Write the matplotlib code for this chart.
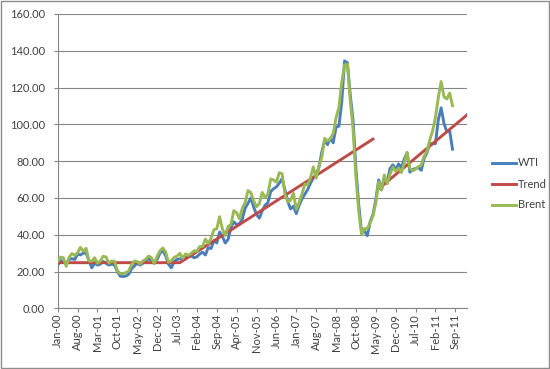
import numpy as np
import matplotlib
matplotlib.use("Agg")
import matplotlib.pyplot as plt
from matplotlib.patches import Rectangle

plt.rcParams['font.family'] = ['Lato', 'DejaVu Sans']

# monthly prices, Jan-00 .. Aug-11
wti = [
    23.5, 26.0, 25.5, 24.0, 26.5, 27.0, 26.5, 29.5, 29.0, 30.0, 30.0, 26.0,   # 2000
    22.0, 24.5, 23.5, 24.0, 25.5, 24.5, 23.5, 24.0, 23.5, 20.0, 17.5, 17.3,   # 2001
    17.5, 18.5, 21.5, 23.0, 24.5, 23.5, 24.5, 25.5, 27.0, 26.0, 24.5, 26.5,   # 2002
    30.0, 31.5, 28.5, 24.0, 22.0, 25.5, 26.5, 27.0, 26.5, 27.5, 28.0, 28.5,   # 2003
    27.5, 28.0, 29.5, 30.5, 29.0, 33.0, 32.5, 37.0, 35.5, 41.5, 39.0, 35.5,   # 2004
    37.5, 44.0, 47.0, 45.5, 46.0, 48.5, 54.5, 57.0, 60.0, 55.0, 51.0, 49.0,   # 2005
    53.0, 56.0, 57.5, 63.5, 65.0, 66.0, 68.0, 70.5, 64.5, 58.0, 54.0, 55.5,   # 2006
    51.5, 56.0, 59.5, 62.0, 64.5, 68.0, 71.0, 72.0, 77.0, 85.0, 91.5, 89.0,   # 2007
    92.5, 90.0, 98.5, 99.0, 112.0, 134.5, 133.5, 116.0, 102.0, 76.0, 56.0, 41.5,  # 2008
    42.0, 39.5, 47.0, 51.0, 59.0, 69.8, 64.4, 70.5, 68.5, 76.0, 78.0, 75.5,   # 2009
    78.5, 76.5, 81.0, 84.5, 74.0, 75.5, 76.0, 76.5, 75.0, 81.5, 84.5, 89.5,   # 2010
    89.5, 89.5, 102.5, 109.0, 100.5, 96.0, 96.5, 86.5,                        # 2011
]
brent = [
    25.5, 27.8, 27.5, 22.8, 27.7, 29.8, 28.7, 30.2, 33.1, 31.0, 32.6, 25.7,
    25.6, 27.5, 24.5, 25.7, 28.3, 27.9, 24.6, 25.7, 25.6, 20.5, 18.8, 18.7,
    19.4, 20.3, 23.7, 25.7, 25.4, 24.1, 25.7, 26.7, 28.4, 27.5, 24.3, 28.3,
    31.2, 32.8, 30.6, 25.0, 25.9, 27.7, 28.4, 29.9, 27.1, 29.6, 28.8, 29.8,
    31.3, 30.9, 33.6, 33.6, 37.6, 35.2, 38.2, 42.7, 43.2, 49.8, 43.1, 39.6,
    44.5, 45.5, 53.1, 51.9, 48.7, 54.4, 57.5, 64.0, 62.9, 58.5, 55.2, 56.9,
    63.0, 60.2, 62.1, 70.3, 69.8, 68.6, 73.7, 73.2, 62.0, 57.8, 58.8, 62.5,
    53.7, 57.6, 62.1, 67.5, 67.2, 71.1, 76.9, 70.8, 77.2, 82.3, 92.4, 90.9,
    92.2, 95.0, 103.6, 109.1, 122.8, 132.3, 132.7, 113.2, 97.2, 71.6, 52.5, 40.0,
    43.4, 43.3, 46.5, 50.2, 57.3, 68.6, 64.4, 72.5, 67.7, 72.8, 76.7, 74.5,
    76.2, 73.8, 78.8, 84.8, 76.0, 74.8, 75.6, 77.0, 77.8, 82.7, 85.3, 91.5,
    96.5, 103.7, 114.6, 123.3, 115.0, 113.8, 117.0, 110.2,
]

# trend line knots (month index, value); two separate segments
trend1_month = [0, 43, 111]
trend1_value = [24.8, 24.8, 92.0]
trend2_month = [113, 144]
trend2_value = [65.0, 105.0]

tick_labels = ['Jan-00', 'Aug-00', 'Mar-01', 'Oct-01', 'May-02', 'Dec-02', 'Jul-03',
               'Feb-04', 'Sep-04', 'Apr-05', 'Nov-05', 'Jun-06', 'Jan-07', 'Aug-07',
               'Mar-08', 'Oct-08', 'May-09', 'Dec-09', 'Jul-10', 'Feb-11', 'Sep-11']

fig = plt.figure(figsize=(5.5, 3.69), dpi=100)
ax = fig.add_axes([57.7 / 550, 1 - 308.3 / 369, (466.7 - 57.7) / 550, (308.3 - 14) / 369])

months = np.arange(len(wti))
ax.plot(months, wti, color='#4a7ebb', lw=2.1, label='WTI', zorder=3)
ax.plot(trend1_month, trend1_value, color='#be4b48', lw=2.1, label='Trend', zorder=4)
ax.plot(trend2_month, trend2_value, color='#be4b48', lw=2.1, zorder=4)
ax.plot(months, brent, color='#98b954', lw=2.1, label='Brent', zorder=5)

ax.set_xlim(0, 144)
ax.set_ylim(0, 160)
ax.set_yticks(np.arange(0, 161, 20))
ax.set_yticklabels(['%.2f' % v for v in np.arange(0, 161, 20)])
ax.set_xticks(np.arange(0, 7 * len(tick_labels), 7))
ax.set_xticklabels(tick_labels, rotation=90)

ax.grid(axis='y', color='#868686', lw=0.8)
ax.set_axisbelow(True)
for s in ['top', 'right']:
    ax.spines[s].set_visible(False)
for s in ['left', 'bottom']:
    ax.spines[s].set_color('#868686')
    ax.spines[s].set_linewidth(0.8)
ax.tick_params(axis='both', colors='#868686', labelcolor='#404040', labelsize=8, width=0.8)
ax.tick_params(axis='x', length=3, pad=1)
ax.tick_params(axis='y', length=3, pad=6)

fig.legend(loc='center left', bbox_to_anchor=(482 / 550, 1 - 184 / 369), frameon=False,
           fontsize=8, handlelength=2.2, handletextpad=0.15, labelspacing=0.9,
           labelcolor='#404040')

fig.patches.append(Rectangle((0.002, 0.003), 0.996, 0.994, transform=fig.transFigure,
                             fill=False, edgecolor='#8c8c8c', lw=1))

fig.savefig('out.png', dpi=100)
